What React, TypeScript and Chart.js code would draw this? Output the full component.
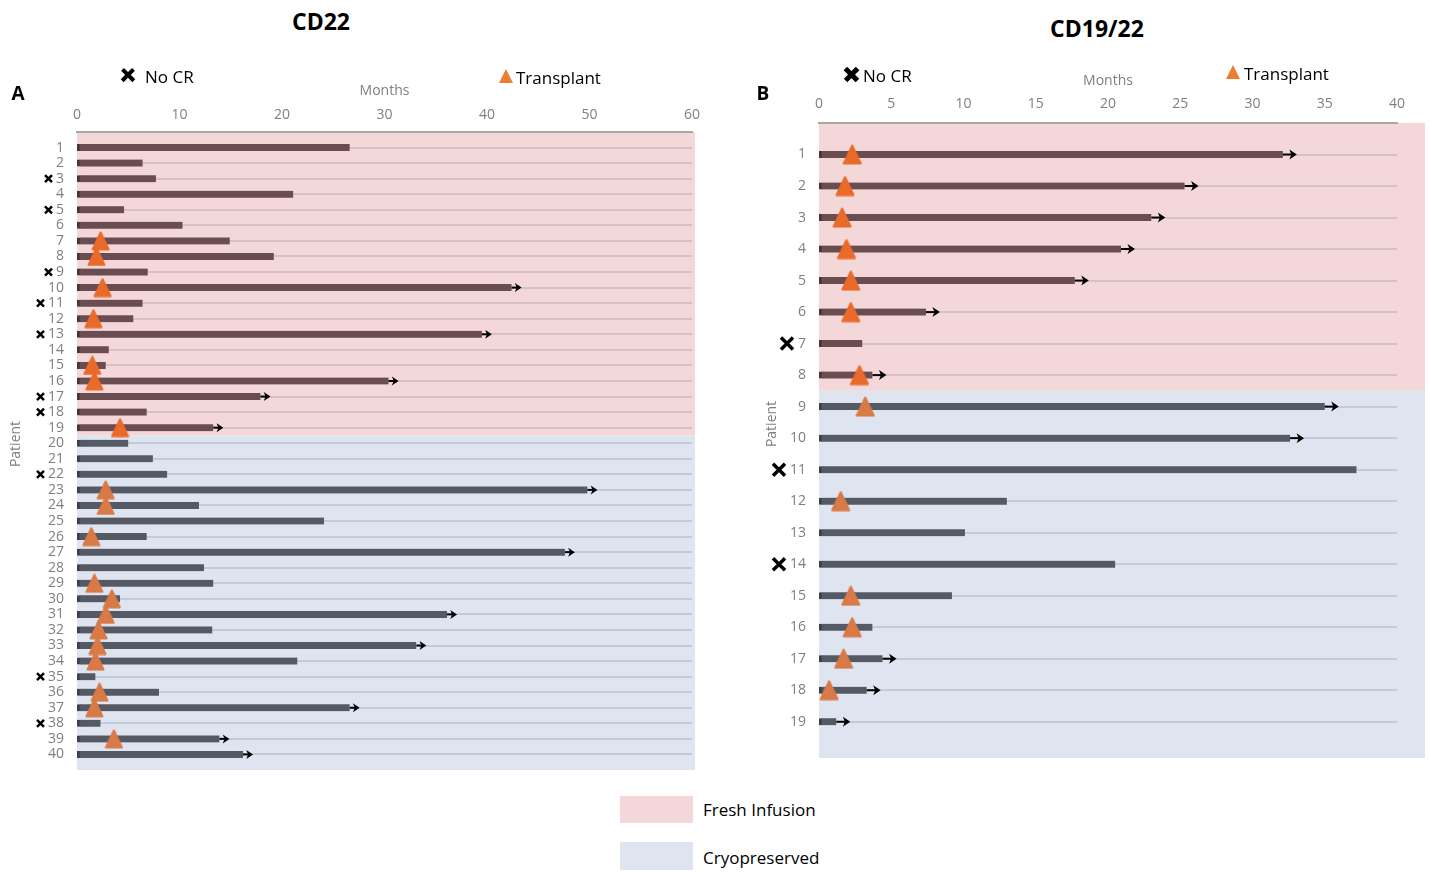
import React, { useEffect, useRef } from 'react';
import { Chart, registerables } from 'chart.js';

Chart.register(...registerables);

// ---------- Panel A: CD22 ----------
const cd22Patients = [1, 2, 3, 4, 5, 6, 7, 8, 9, 10, 11, 12, 13, 14, 15, 16, 17, 18, 19, 20, 21, 22, 23, 24, 25, 26, 27, 28, 29, 30, 31, 32, 33, 34, 35, 36, 37, 38, 39, 40];
const cd22Months = [26.6, 6.4, 7.7, 21.1, 4.6, 10.3, 14.9, 19.2, 6.9, 42.4, 6.4, 5.5, 39.5, 3.1, 2.8, 30.4, 17.9, 6.8, 13.3, 5.0, 7.4, 8.8, 49.8, 11.9, 24.1, 6.8, 47.6, 12.4, 13.3, 4.2, 36.1, 13.2, 33.1, 21.5, 1.8, 8.0, 26.6, 2.3, 13.9, 16.2];
const cd22TransplantPatients = [7, 8, 10, 12, 15, 16, 19, 23, 24, 26, 29, 30, 31, 32, 33, 34, 36, 37, 39];
const cd22TransplantMonths = [2.3, 1.9, 2.5, 1.6, 1.5, 1.7, 4.2, 2.8, 2.8, 1.4, 1.7, 3.4, 2.8, 2.1, 2.0, 1.8, 2.2, 1.7, 3.6];
const cd22NoCR = [3, 5, 9, 11, 13, 17, 18, 22, 35, 38];
const cd22Ongoing = [10, 13, 16, 17, 19, 23, 27, 31, 33, 37, 39, 40];
const cd22FreshCount = 19;
const cd22XTicks = { max: 60, step: 10 };
const cd22YMax = 41;

// ---------- Panel B: CD19/22 ----------
const cd1922Patients = [1, 2, 3, 4, 5, 6, 7, 8, 9, 10, 11, 12, 13, 14, 15, 16, 17, 18, 19];
const cd1922Months = [32.1, 25.3, 23.0, 20.9, 17.7, 7.4, 3.0, 3.7, 35.0, 32.6, 37.2, 13.0, 10.1, 20.5, 9.2, 3.7, 4.4, 3.3, 1.2];
const cd1922TransplantPatients = [1, 2, 3, 4, 5, 6, 8, 9, 12, 15, 16, 17, 18];
const cd1922TransplantMonths = [2.3, 1.8, 1.6, 1.9, 2.2, 2.2, 2.8, 3.2, 1.5, 2.2, 2.3, 1.7, 0.7];
const cd1922NoCR = [7, 11, 14];
const cd1922Ongoing = [1, 2, 3, 4, 5, 6, 8, 9, 10, 17, 18, 19];
const cd1922FreshCount = 8;
const cd1922XTicks = { max: 40, step: 5 };
const cd1922YMax = 20.15;

// ---------- styling ----------
const COLORS = {
  freshBg: '#f4d8d9',
  cryoBg: '#dfe5f0',
  barFresh: '#6a4d50',
  barFreshEdge: '#4a3436',
  barCryo: '#545963',
  barCryoEdge: '#3c4048',
  triFresh: '#ea6a2a',
  triCryo: '#d97a47',
  legendTri: '#ed7d31',
  grid: 'rgba(110,110,128,0.22)',
  axisText: '#7f7f7f',
  border: '#a8a8a8',
};
const FONT = "'Open Sans', 'Noto Sans', sans-serif";

type PanelData = {
  patients: number[];
  months: number[];
  txPatients: number[];
  txMonths: number[];
  noCR: number[];
  ongoing: number[];
  freshCount: number;
  xMax: number;
  xStep: number;
  yMax: number;
};

type PanelStyle = {
  width: number;
  height: number;
  yAxisW: number;
  xAxisH: number;
  padRight: number;
  padBottom: number;
  bgExtend: number;
  arrowLen: number;
  arrowHead: number;
  crossSize: number;
  crossLW: number;
  crossGap: number;
  tickFont: number;
  yTickPad: number;
  xTickPad: number;
  monthsPad: number;
  triW: number;
  triH: number;
};

function makeTriangle(color: string, w: number, h: number) {
  const c = document.createElement('canvas');
  c.width = w;
  c.height = h;
  const g = c.getContext('2d')!;
  g.fillStyle = color;
  g.strokeStyle = color;
  g.lineJoin = 'round';
  g.lineWidth = 2;
  g.beginPath();
  g.moveTo(w / 2, 1.5);
  g.lineTo(w - 1.5, h - 1.5);
  g.lineTo(1.5, h - 1.5);
  g.closePath();
  g.fill();
  g.stroke();
  return c;
}

function buildConfig(d: PanelData, st: PanelStyle): any {
  const isFresh = (p: number) => p <= d.freshCount;
  const triFresh = makeTriangle(COLORS.triFresh, st.triW, st.triH);
  const triCryo = makeTriangle(COLORS.triCryo, st.triW, st.triH);
  const tickFont = { family: FONT, size: st.tickFont };

  const overlay = {
    id: 'swimmerOverlay',
    beforeDraw(chart: any) {
      const { ctx, chartArea, scales } = chart;
      const y = scales.y;
      const top = y.getPixelForValue(0);
      const mid = y.getPixelForValue(d.freshCount + 0.5);
      const bot = y.getPixelForValue(d.yMax);
      const left = chartArea.left;
      const w = chartArea.right - chartArea.left + st.bgExtend;
      ctx.save();
      ctx.fillStyle = COLORS.freshBg;
      ctx.fillRect(left, top, w, mid - top);
      ctx.fillStyle = COLORS.cryoBg;
      ctx.fillRect(left, mid, w, bot - mid);
      ctx.restore();
    },
    afterDatasetsDraw(chart: any) {
      const { ctx, scales } = chart;
      ctx.save();
      ctx.fillStyle = '#000';
      ctx.strokeStyle = '#000';
      d.ongoing.forEach((p) => {
        const i = d.patients.indexOf(p);
        const x0 = scales.x.getPixelForValue(d.months[i]);
        const yy = scales.y.getPixelForValue(p);
        const L = st.arrowLen;
        const hh = st.arrowHead;
        ctx.lineWidth = 2;
        ctx.beginPath();
        ctx.moveTo(x0, yy);
        ctx.lineTo(x0 + L - 2, yy);
        ctx.stroke();
        ctx.beginPath();
        ctx.moveTo(x0 + L, yy);
        ctx.lineTo(x0 + L - hh * 1.5, yy - hh);
        ctx.lineTo(x0 + L - hh * 1.1, yy);
        ctx.lineTo(x0 + L - hh * 1.5, yy + hh);
        ctx.closePath();
        ctx.fill();
      });
      ctx.restore();
    },
    afterDraw(chart: any) {
      const { ctx, scales } = chart;
      const y = scales.y;
      ctx.save();
      ctx.font = `${st.tickFont}px ${FONT}`;
      ctx.strokeStyle = '#000';
      ctx.lineWidth = st.crossLW;
      ctx.lineCap = 'butt';
      d.noCR.forEach((p) => {
        const yy = y.getPixelForValue(p);
        const lw = ctx.measureText(String(p)).width;
        const xr = y.right - st.yTickPad - lw - st.crossGap;
        const s = st.crossSize / 2;
        const cx = xr - s;
        ctx.beginPath();
        ctx.moveTo(cx - s, yy - s);
        ctx.lineTo(cx + s, yy + s);
        ctx.moveTo(cx + s, yy - s);
        ctx.lineTo(cx - s, yy + s);
        ctx.stroke();
      });
      ctx.restore();
    },
  };

  return {
    type: 'bar',
    data: {
      datasets: [
        {
          type: 'scatter',
          label: 'Transplant',
          data: d.txPatients.map((p, i) => ({ x: d.txMonths[i], y: p })),
          pointStyle: (c: any) => (c.raw && isFresh(c.raw.y) ? triFresh : triCryo),
          radius: 10,
          hoverRadius: 10,
          order: 0,
        },
        {
          type: 'bar',
          label: 'Months',
          indexAxis: 'y',
          data: d.patients.map((p, i) => ({ x: d.months[i], y: p })),
          backgroundColor: (c: any) => (c.raw && isFresh(c.raw.y) ? COLORS.barFresh : COLORS.barCryo),
          borderColor: (c: any) => (c.raw && isFresh(c.raw.y) ? COLORS.barFreshEdge : COLORS.barCryoEdge),
          borderWidth: { left: 3, right: 0, top: 0, bottom: 0 },
          borderSkipped: false,
          barThickness: 7,
          order: 1,
        },
      ],
    },
    options: {
      responsive: false,
      animation: false,
      events: [],
      layout: { padding: { left: 0, top: 0, right: st.padRight, bottom: st.padBottom } },
      plugins: { legend: { display: false }, tooltip: { enabled: false } },
      scales: {
        x: {
          type: 'linear',
          position: 'top',
          offset: false,
          min: 0,
          max: d.xMax,
          ticks: { stepSize: d.xStep, color: COLORS.axisText, font: tickFont, padding: st.xTickPad, autoSkip: false, maxRotation: 0 },
          grid: { display: false, drawTicks: false, offset: false },
          border: { display: true, color: COLORS.border, width: 2 },
          title: { display: true, text: 'Months', color: COLORS.axisText, font: { family: FONT, size: 14 }, padding: { top: st.monthsPad, bottom: 0 } },
          afterFit: (s: any) => {
            s.height = st.xAxisH;
            s.paddingLeft = 0;
            s.paddingRight = 0;
          },
        },
        y: {
          type: 'linear',
          reverse: true,
          offset: false,
          min: 0,
          max: d.yMax,
          afterBuildTicks: (s: any) => {
            s.ticks = d.patients.map((v) => ({ value: v }));
          },
          ticks: { autoSkip: false, color: COLORS.axisText, font: tickFont, padding: st.yTickPad },
          grid: { color: COLORS.grid, lineWidth: 2, drawTicks: false, offset: false },
          border: { display: false },
          title: { display: false },
          afterFit: (s: any) => {
            s.width = st.yAxisW;
            s.paddingTop = 0;
            s.paddingBottom = 0;
          },
        },
      },
    },
    plugins: [overlay],
  };
}

const panelA: PanelData = {
  patients: cd22Patients,
  months: cd22Months,
  txPatients: cd22TransplantPatients,
  txMonths: cd22TransplantMonths,
  noCR: cd22NoCR,
  ongoing: cd22Ongoing,
  freshCount: cd22FreshCount,
  xMax: cd22XTicks.max,
  xStep: cd22XTicks.step,
  yMax: cd22YMax,
};

const panelB: PanelData = {
  patients: cd1922Patients,
  months: cd1922Months,
  txPatients: cd1922TransplantPatients,
  txMonths: cd1922TransplantMonths,
  noCR: cd1922NoCR,
  ongoing: cd1922Ongoing,
  freshCount: cd1922FreshCount,
  xMax: cd1922XTicks.max,
  xStep: cd1922XTicks.step,
  yMax: cd1922YMax,
};

const styleA: PanelStyle = {
  width: 720, height: 722, yAxisW: 77, xAxisH: 71, padRight: 28, padBottom: 13, bgExtend: 3,
  arrowLen: 10, arrowHead: 4.5, crossSize: 7, crossLW: 2.5, crossGap: 4, tickFont: 14, yTickPad: 13,
  xTickPad: 9, monthsPad: 22, triW: 19, triH: 20,
};

const styleB: PanelStyle = {
  width: 690, height: 722, yAxisW: 79, xAxisH: 72, padRight: 33, padBottom: 15, bgExtend: 28,
  arrowLen: 14, arrowHead: 5, crossSize: 12, crossLW: 3.5, crossGap: 5, tickFont: 14, yTickPad: 13,
  xTickPad: 11, monthsPad: 22, triW: 20, triH: 21,
};

function SwimmerChart({ data, st, left, top }: { data: PanelData; st: PanelStyle; left: number; top: number }) {
  const ref = useRef<HTMLCanvasElement>(null);
  useEffect(() => {
    if (!ref.current) return;
    const chart = new Chart(ref.current, buildConfig(data, st));
    return () => chart.destroy();
  }, []);
  return (
    <canvas
      ref={ref}
      width={st.width}
      height={st.height}
      style={{ position: 'absolute', left, top, width: st.width, height: st.height }}
    />
  );
}

function Text({ x, y, children, size, bold, color, anchor, rotate }: any) {
  const base = anchor === 'left' ? 'translate(0,-50%)' : 'translate(-50%,-50%)';
  return (
    <div
      style={{
        position: 'absolute',
        left: x,
        top: y,
        transform: rotate ? `${base} rotate(${rotate}deg)` : base,
        fontFamily: FONT,
        fontSize: size,
        fontWeight: bold ? 700 : 400,
        color: color || '#000',
        whiteSpace: 'nowrap',
        lineHeight: 1,
      }}
    >
      {children}
    </div>
  );
}

function Cross({ x, y, size }: { x: number; y: number; size: number }) {
  const bar = (rot: number) => (
    <div
      style={{
        position: 'absolute',
        left: 0,
        top: size / 2 - size * 0.14,
        width: size,
        height: size * 0.28,
        background: '#000',
        transform: `rotate(${rot}deg)`,
      }}
    />
  );
  return (
    <div style={{ position: 'absolute', left: x - size / 2, top: y - size / 2, width: size, height: size }}>
      {bar(45)}
      {bar(-45)}
    </div>
  );
}

function Tri({ x, y, w, h }: { x: number; y: number; w: number; h: number }) {
  return (
    <div
      style={{
        position: 'absolute',
        left: x - w / 2,
        top: y - h / 2,
        width: 0,
        height: 0,
        borderLeft: `${w / 2}px solid transparent`,
        borderRight: `${w / 2}px solid transparent`,
        borderBottom: `${h}px solid ${COLORS.legendTri}`,
      }}
    />
  );
}

export default function App() {
  return (
    <div style={{ position: 'absolute', left: 0, top: 0, width: 1430, height: 872, background: '#fff', overflow: 'hidden' }}>
      <SwimmerChart data={panelA} st={styleA} left={0} top={61} />
      <SwimmerChart data={panelB} st={styleB} left={740} top={51} />

      <Text x={15} y={444} size={14} color={COLORS.axisText} rotate={-90}>Patient</Text>
      <Text x={771} y={424} size={14} color={COLORS.axisText} rotate={-90}>Patient</Text>

      <Text x={321} y={21} size={23} bold>CD22</Text>
      <Text x={1097} y={28} size={23} bold>CD19/22</Text>
      <Text x={18} y={93} size={19} bold>A</Text>
      <Text x={763} y={93} size={19} bold>B</Text>

      <Cross x={128} y={75} size={16} />
      <Text x={145} y={76} size={17} anchor="left">No CR</Text>
      <Tri x={506} y={76} w={14} h={14} />
      <Text x={516} y={77} size={17} anchor="left">Transplant</Text>

      <Cross x={851} y={74} size={17} />
      <Text x={863} y={75} size={17} anchor="left">No CR</Text>
      <Tri x={1233} y={72} w={14} h={14} />
      <Text x={1244} y={73} size={17} anchor="left">Transplant</Text>

      <div style={{ position: 'absolute', left: 620, top: 796, width: 73, height: 27, background: COLORS.freshBg }} />
      <Text x={703} y={809} size={17} anchor="left">Fresh Infusion</Text>
      <div style={{ position: 'absolute', left: 620, top: 842, width: 73, height: 28, background: COLORS.cryoBg }} />
      <Text x={703} y={857} size={17} anchor="left">Cryopreserved</Text>
    </div>
  );
}
